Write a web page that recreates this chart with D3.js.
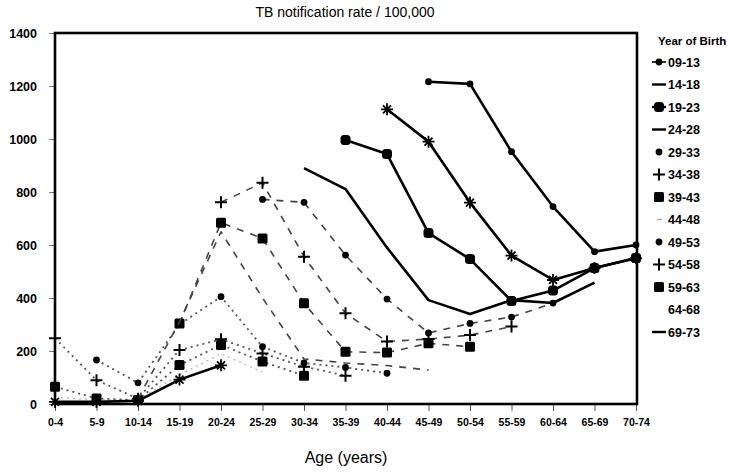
<!DOCTYPE html>
<html>
<head>
<meta charset="utf-8">
<script src="https://cdn.jsdelivr.net/npm/d3@7"></script>
<style>
  body { margin: 0; background: #fff; }
  svg { display: block; font-family: "Liberation Sans", Arial, sans-serif; }
  .narrow { font-family: "Liberation Sans Narrow", "Arial Narrow", "Liberation Sans", sans-serif; font-stretch: condensed; }
</style>
</head>
<body>
<svg id="chart" width="742" height="472"></svg>
<script>
// Age groups along the x axis
const ageGroups = ["0-4", "5-9", "10-14", "15-19", "20-24", "25-29", "30-34", "35-39",
  "40-44", "45-49", "50-54", "55-59", "60-64", "65-69", "70-74"];
const yTicks = [0, 200, 400, 600, 800, 1000, 1200, 1400];

// Year-of-birth cohorts (legend order)
const cohorts = ["09-13", "14-18", "19-23", "24-28", "29-33", "34-38", "39-43",
  "44-48", "49-53", "54-58", "59-63", "64-68", "69-73"];

// TB notification rate per 100,000 by age group (null = not observed)
const _ = null;
const rate0913 = [_, _, _, _, _, _, _, _, _, 1216, 1208, 952, 745, 575, 600];
const rate1418 = [_, _, _, _, _, _, _, _, 1112, 990, 760, 560, 468, 513, 550];
const rate1923 = [_, _, _, _, _, _, _, 996, 943, 645, 547, 389, 428, 513, 551];
const rate2428 = [_, _, _, _, _, _, 890, 811, 590, 392, 340, 392, 381, 458, _];
const rate2933 = [_, _, _, _, _, 772, 761, 562, 396, 268, 304, 328, 381, _, _];
const rate3438 = [_, _, _, _, 761, 835, 556, 342, 236, 245, 260, 292, _, _, _];
const rate3943 = [_, _, _, 304, 684, 625, 380, 197, 194, 229, 216, _, _, _, _];
const rate4448 = [_, _, 20, 310, 650, 400, 170, 155, 145, 128, _, _, _, _, _];
const rate4953 = [_, 166, 80, 300, 405, 216, 155, 138, 116, _, _, _, _, _, _];
const rate5458 = [248, 90, 20, 204, 244, 191, 141, 107, _, _, _, _, _, _, _];
const rate5963 = [65, 21, 15, 147, 223, 160, 107, _, _, _, _, _, _, _, _];
const rate6468 = [25, 15, 15, 110, 190, 120, _, _, _, _, _, _, _, _, _];
const rate6973 = [8, 8, 12, 92, 146, _, _, _, _, _, _, _, _, _, _];

const rates = [rate0913, rate1418, rate1923, rate2428, rate2933, rate3438, rate3943,
  rate4448, rate4953, rate5458, rate5963, rate6468, rate6973];

// How each cohort is drawn
const lineStyles = {
  solid:  { stroke: "#000", width: 2.6, dash: null },
  dashed: { stroke: "#444", width: 1.6, dash: "7,7" },
  dotted: { stroke: "#555", width: 1.8, dash: "2,4" },
  faint:  { stroke: "#bbb", width: 1.4, dash: "2,4" }
};
const cohortStyle = [
  { line: "solid", marker: "dot" },
  { line: "solid", marker: "star" },
  { line: "solid", marker: "bigdot" },
  { line: "solid", marker: null },
  { line: "dashed", marker: "dot" },
  { line: "dashed", marker: "plus" },
  { line: "dashed", marker: "square" },
  { line: "dashed", marker: null },
  { line: "dotted", marker: "dot" },
  { line: "dotted", marker: "plus" },
  { line: "dotted", marker: "square" },
  { line: "faint", marker: null },
  { line: "solid", marker: "star" }
];

const svg = d3.select("#chart");
const plot = { left: 55, right: 636, top: 33, bottom: 404 };

const x = d3.scalePoint().domain(ageGroups).range([plot.left, plot.right]);
const y = d3.scaleLinear().domain([0, 1400]).range([plot.bottom, plot.top]);

// Title
svg.append("text")
  .attr("x", 345).attr("y", 17)
  .attr("text-anchor", "middle")
  .style("font-size", "14px")
  .text("TB notification rate / 100,000");

// Y axis
const yAxis = svg.append("g")
  .attr("transform", `translate(${plot.left},0)`)
  .call(d3.axisLeft(y).tickValues(yTicks).tickSize(6).tickPadding(12).tickFormat(d3.format("d")));
yAxis.select(".domain").remove();
yAxis.selectAll("line").attr("stroke", "#777");
yAxis.selectAll("text")
  .style("font-size", "12.5px").style("font-weight", "bold")
  .style("font-family", "Liberation Sans, Arial, sans-serif")
  .attr("fill", "#000");

// X axis
const xAxis = svg.append("g")
  .attr("transform", `translate(0,${plot.bottom})`)
  .call(d3.axisBottom(x).tickSize(7).tickPadding(8));
xAxis.select(".domain").remove();
xAxis.selectAll("line").attr("stroke", "#555");
xAxis.selectAll("text")
  .attr("class", "narrow")
  .style("font-size", "10.5px").style("font-weight", "bold")
  .attr("fill", "#000");

svg.append("text")
  .attr("x", 346).attr("y", 463)
  .attr("text-anchor", "middle")
  .style("font-size", "16px")
  .text("Age (years)");

// Plot frame
svg.append("rect")
  .attr("x", plot.left).attr("y", plot.top)
  .attr("width", plot.right - plot.left + 1).attr("height", plot.bottom - plot.top)
  .attr("fill", "none").attr("stroke", "#000").attr("stroke-width", 2.6);

// Marker shapes
function drawMarker(g, type, cx, cy) {
  if (type === "dot") {
    g.append("circle").attr("cx", cx).attr("cy", cy).attr("r", 3.4).attr("fill", "#000");
  } else if (type === "bigdot") {
    g.append("rect").attr("x", cx - 5).attr("y", cy - 5).attr("width", 10).attr("height", 10)
      .attr("rx", 3.5).attr("fill", "#000");
  } else if (type === "square") {
    g.append("rect").attr("x", cx - 5).attr("y", cy - 5).attr("width", 10).attr("height", 10)
      .attr("rx", 1.5).attr("fill", "#000");
  } else if (type === "plus") {
    g.append("path").attr("d", `M${cx - 6},${cy}H${cx + 6}M${cx},${cy - 6}V${cy + 6}`)
      .attr("stroke", "#000").attr("stroke-width", 2).attr("fill", "none");
  } else if (type === "star") {
    g.append("path")
      .attr("d", `M${cx - 6},${cy}H${cx + 6}M${cx},${cy - 6}V${cy + 6}M${cx - 4},${cy - 4}L${cx + 4},${cy + 4}M${cx - 4},${cy + 4}L${cx + 4},${cy - 4}`)
      .attr("stroke", "#000").attr("stroke-width", 1.8).attr("fill", "none");
  }
}

const line = d3.line()
  .defined(d => d.v != null)
  .x(d => x(d.age))
  .y(d => y(d.v));

// Draw faint/dotted first, solid lines last so they sit on top
const drawOrder = d3.range(cohorts.length).sort((a, b) => {
  const rank = { faint: 0, dotted: 1, dashed: 2, solid: 3 };
  return rank[cohortStyle[a].line] - rank[cohortStyle[b].line];
});

const series = svg.append("g");
drawOrder.forEach(i => {
  const pts = ageGroups.map((age, k) => ({ age: age, v: rates[i][k] }));
  const st = lineStyles[cohortStyle[i].line];
  const g = series.append("g").attr("class", "cohort");
  g.append("path")
    .datum(pts)
    .attr("d", line)
    .attr("fill", "none")
    .attr("stroke", st.stroke)
    .attr("stroke-width", st.width)
    .attr("stroke-dasharray", st.dash)
    .attr("stroke-linejoin", "round");
  if (cohortStyle[i].marker) {
    pts.filter(p => p.v != null).forEach(p => drawMarker(g, cohortStyle[i].marker, x(p.age), y(p.v)));
  }
});

// Legend
const legend = svg.append("g");
legend.append("text")
  .attr("x", 658).attr("y", 45)
  .style("font-size", "11.5px").style("font-weight", "bold")
  .text("Year of Birth");

const rowY = d3.scaleLinear().domain([0, cohorts.length - 1]).range([62, 332]);
cohorts.forEach((c, i) => {
  const ly = rowY(i);
  const st = cohortStyle[i];
  const g = legend.append("g");
  const hasLine = st.line === "solid" && st.marker !== "star" || (i === 0 || i === 2);
  if (st.line === "solid") {
    g.append("line").attr("x1", 652).attr("x2", 666).attr("y1", ly).attr("y2", ly)
      .attr("stroke", "#000").attr("stroke-width", i === 0 ? 1.6 : 2.4);
  } else if (st.line === "dashed" && !st.marker) {
    g.append("line").attr("x1", 657).attr("x2", 662).attr("y1", ly).attr("y2", ly)
      .attr("stroke", "#aaa").attr("stroke-width", 1.4);
  }
  if (st.marker && st.marker !== "star") {
    const m = st.marker === "bigdot" ? "bigdot" : st.marker;
    drawMarker(g, m, 659, ly);
  }
  g.append("text")
    .attr("class", "narrow")
    .attr("x", 668).attr("y", ly + 4.5)
    .style("font-size", "12.5px").style("font-weight", "bold")
    .text(c);
});
</script>
</body>
</html>
